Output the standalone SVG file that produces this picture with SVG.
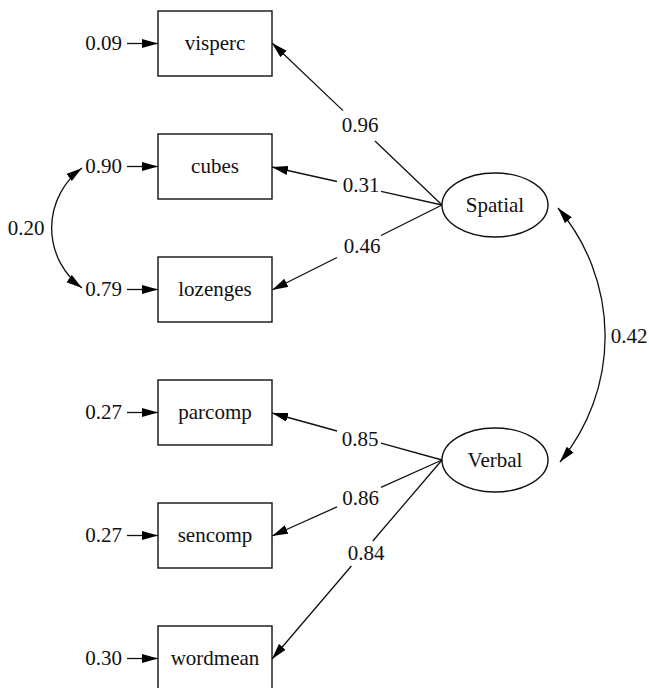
<svg xmlns="http://www.w3.org/2000/svg" width="649" height="688" viewBox="0 0 649 688" font-family="'Liberation Serif', 'DejaVu Serif', serif">
<defs>
<marker id="ah" markerUnits="userSpaceOnUse" markerWidth="18" markerHeight="10" refX="16" refY="4.5" orient="auto-start-reverse">
<path d="M0,0 L16,4.5 L0,9 z" fill="#000"/>
</marker>
<style>
text{font-family:'Liberation Serif','DejaVu Serif',serif;font-size:21px;fill:#111}
.n{text-anchor:middle}
.e{text-anchor:end}
rect,ellipse{fill:#fff;stroke:#111;stroke-width:1.4}
.c path{fill:none;stroke:#111;stroke-width:1.3}
</style>
</defs>
<rect width="649" height="688" fill="#fff" style="stroke:none"/>
<g id="connectors" class="c">
<path d="M442,205 L375,141 M343,110.6 L272,43" marker-end="url(#ah)"/>
<path d="M442,205 L381,191.4 M337,181.5 L272,167" marker-end="url(#ah)"/>
<path d="M442,205 L381,235.5 M337,257.5 L272,290" marker-end="url(#ah)"/>
<path d="M442,460 L381,443.1 M337,431 L272,413" marker-end="url(#ah)"/>
<path d="M442,460 L381,487.3 M337,506.9 L272,536" marker-end="url(#ah)"/>
<path d="M442,460 L372.8,541 M351.4,566 L272,659" marker-end="url(#ah)"/>
<path d="M127,43.5 L158,43.5" marker-end="url(#ah)"/>
<path d="M127,166.5 L158,166.5" marker-end="url(#ah)"/>
<path d="M127,289.5 L158,289.5" marker-end="url(#ah)"/>
<path d="M127,412.5 L158,412.5" marker-end="url(#ah)"/>
<path d="M127,535.5 L158,535.5" marker-end="url(#ah)"/>
<path d="M127,658.5 L158,658.5" marker-end="url(#ah)"/>
<path d="M82,168 A74.5,74.5 0 0 0 82,288" marker-start="url(#ah)" marker-end="url(#ah)"/>
<path d="M558,208 A198,198 0 0 1 560,462" marker-start="url(#ah)" marker-end="url(#ah)"/>
</g>
<g id="labels">
<text class="n" x="360" y="132">0.96</text>
<text class="n" x="361" y="192">0.31</text>
<text class="n" x="362" y="253">0.46</text>
<text class="n" x="360" y="446">0.85</text>
<text class="n" x="360.5" y="505">0.86</text>
<text class="n" x="366" y="560">0.84</text>
<text class="n" x="26" y="235">0.20</text>
<text class="n" x="629" y="343">0.42</text>
<text class="e" x="122" y="50">0.09</text>
<text class="e" x="122" y="173">0.90</text>
<text class="e" x="122" y="296">0.79</text>
<text class="e" x="122" y="419">0.27</text>
<text class="e" x="122" y="542">0.27</text>
<text class="e" x="122" y="665">0.30</text>
</g>
<g id="visperc"><rect x="158" y="11" width="114" height="65"/><text class="n" x="215" y="50">visperc</text></g>
<g id="cubes"><rect x="158" y="134" width="114" height="65"/><text class="n" x="215" y="173">cubes</text></g>
<g id="lozenges"><rect x="158" y="257" width="114" height="65"/><text class="n" x="215" y="296">lozenges</text></g>
<g id="parcomp"><rect x="158" y="380" width="114" height="65"/><text class="n" x="215" y="419">parcomp</text></g>
<g id="sencomp"><rect x="158" y="503" width="114" height="65"/><text class="n" x="215" y="542">sencomp</text></g>
<g id="wordmean"><rect x="158" y="626" width="114" height="65"/><text class="n" x="215" y="665">wordmean</text></g>
<g id="spatial"><ellipse cx="495" cy="205" rx="53" ry="32"/><text class="n" x="495" y="211.5">Spatial</text></g>
<g id="verbal"><ellipse cx="495" cy="460" rx="53" ry="32"/><text class="n" x="495" y="466.5">Verbal</text></g>
</svg>
